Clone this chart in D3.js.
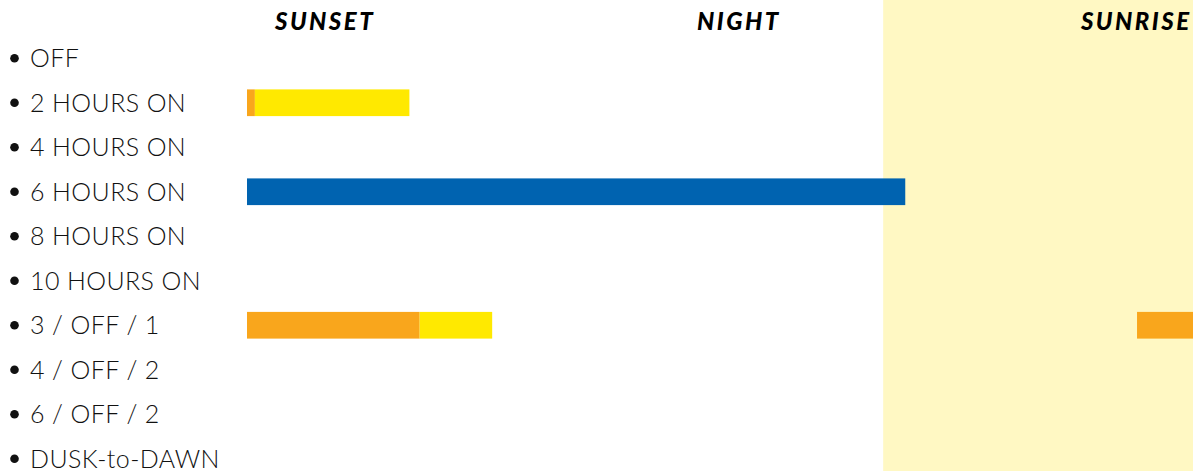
<!DOCTYPE html>
<html>
<head>
<meta charset="utf-8">
<script src="https://cdn.jsdelivr.net/npm/d3@7"></script>
<style>
  html, body { margin: 0; padding: 0; background: #fff; }
  svg { display: block; }
</style>
</head>
<body>
<svg id="chart"></svg>
<script>
// modes shown down the left side
const modes = ['OFF', '2 HOURS ON', '4 HOURS ON', '6 HOURS ON', '8 HOURS ON',
  '10 HOURS ON', '3 / OFF / 1', '4 / OFF / 2', '6 / OFF / 2', 'DUSK-to-DAWN'];

// phase headers (hours after sunset)
const phases = ['SUNSET', 'NIGHT', 'SUNRISE'];
const phaseAt = [0.99, 6.24, 11.28];
const sunriseStart = 8.07;

// light segments: mode, start hour, end hour, level
const segments = [
  { mode: '2 HOURS ON', start: 0, end: 0.1, level: 'dim' },
  { mode: '2 HOURS ON', start: 0.1, end: 2.06, level: 'full' },
  { mode: '6 HOURS ON', start: 0, end: 8.35, level: 'on' },
  { mode: '3 / OFF / 1', start: 0, end: 2.19, level: 'dim' },
  { mode: '3 / OFF / 1', start: 2.19, end: 3.11, level: 'full' },
  { mode: '3 / OFF / 1', start: 11.29, end: 12, level: 'dim' },
];

(() => {
  const width = 1193;
  const height = 471;

  const svg = d3.select('svg#chart')
    .attr('width', width)
    .attr('height', height);

  const xScale = d3.scaleLinear()
    .domain([0, 12])
    .range([247, width]);

  const yScale = d3.scaleBand()
    .domain(modes)
    .range([36, 481])
    .paddingInner(0.4)
    .paddingOuter(0.2);

  const color = d3.scaleOrdinal()
    .domain(['dim', 'full', 'on'])
    .range(['#f9a61c', '#ffe900', '#0063b0']);

  // sunrise band
  svg.append('rect')
    .attr('x', xScale(sunriseStart))
    .attr('y', 0)
    .attr('width', xScale(12) - xScale(sunriseStart))
    .attr('height', height)
    .attr('fill', '#fff8c3');

  svg.selectAll('text.phase')
    .data(phases)
    .enter()
    .append('text')
      .attr('class', 'phase')
      .attr('x', (d, i) => xScale(phaseAt[i]))
      .attr('y', 30)
      .attr('text-anchor', 'middle')
      .style('font-family', 'Lato, sans-serif')
      .style('font-size', '24px')
      .style('font-weight', 900)
      .style('font-style', 'italic')
      .style('letter-spacing', '2.5px')
      .style('fill', '#000')
      .text(d => d);

  const labels = svg.selectAll('g.label')
    .data(modes)
    .enter()
    .append('g')
      .attr('class', 'label')
      .attr('transform', d => `translate(0,${yScale(d) + yScale.bandwidth() / 2})`);

  labels.append('circle')
    .attr('cx', 14.5)
    .attr('cy', 0)
    .attr('r', 4.3)
    .attr('fill', '#111');

  labels.append('text')
    .attr('x', 30)
    .attr('y', 9)
    .style('font-family', 'Lato, sans-serif')
    .style('font-size', '25px')
    .style('font-weight', 300)
    .style('letter-spacing', '0.4px')
    .style('fill', '#111')
    .text(d => d);

  svg.selectAll('rect.seg')
    .data(segments)
    .enter()
    .append('rect')
      .attr('class', 'seg')
      .attr('x', d => xScale(d.start))
      .attr('y', d => yScale(d.mode))
      .attr('width', d => xScale(d.end) - xScale(d.start))
      .attr('height', yScale.bandwidth())
      .attr('fill', d => color(d.level));
})();
</script>
</body>
</html>
